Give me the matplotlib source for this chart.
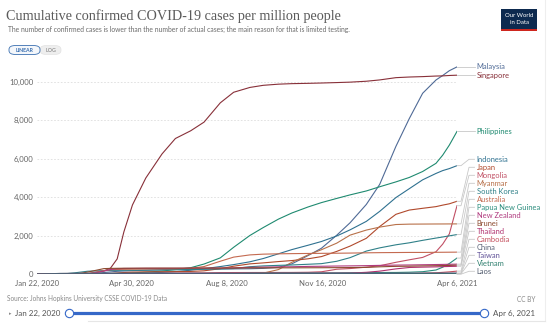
import numpy as np
import pandas as pd
import matplotlib.pyplot as plt
import matplotlib.dates as mdates
from matplotlib.patches import FancyBboxPatch, Rectangle
from matplotlib.lines import Line2D

plt.rcParams['font.family'] = ['Lato', 'DejaVu Sans']

# sample dates (cumulative confirmed cases per million)
dates = pd.to_datetime([
    '2020-01-22', '2020-02-15', '2020-03-01', '2020-03-15', '2020-04-01', '2020-04-08',
    '2020-04-15', '2020-04-22', '2020-05-01', '2020-05-15', '2020-06-01', '2020-06-15',
    '2020-07-01', '2020-07-15', '2020-08-01', '2020-08-15', '2020-09-01', '2020-09-15',
    '2020-10-01', '2020-10-15', '2020-11-01', '2020-11-15', '2020-12-01', '2020-12-15',
    '2021-01-01', '2021-01-15', '2021-02-01', '2021-02-15', '2021-03-01', '2021-03-15',
    '2021-03-22', '2021-03-29', '2021-04-06'])

malaysia = [0, 0.6, 0.9, 13, 91, 123, 155, 170, 188, 211, 242, 262, 267, 270, 277, 281, 289, 307,
            363, 542, 974, 1353, 2029, 2676, 3626, 4667, 6641, 8082, 9397, 10087, 10320, 10570, 10767]
singapore = [0, 12, 18, 39, 171, 320, 800, 2200, 3600, 5000, 6250, 7050, 7450, 7900, 8900, 9450,
             9700, 9810, 9870, 9897, 9913, 9930, 9953, 9975, 10022, 10090, 10208, 10241, 10262,
             10292, 10300, 10321, 10336]
philippines = [0, 0, 0, 1.3, 20, 35, 49, 62, 80, 107, 170, 243, 342, 533, 852, 1402, 2015, 2426,
               2866, 3182, 3496, 3722, 3939, 4123, 4326, 4544, 4797, 5027, 5336, 5761, 6184, 6710, 7417]
indonesia = [0, 0, 0, 0.4, 6.1, 10.9, 19, 27, 39, 60, 98, 143, 211, 290, 402, 503, 649, 818,
             1065, 1282, 1509, 1703, 1989, 2308, 2747, 3266, 3983, 4444, 4904, 5236, 5383, 5488, 5640]
japan = [0, 0.4, 2.0, 6.7, 18.8, 40, 67, 93, 113, 128, 133, 139, 148, 181, 291, 420, 541, 593,
         661, 713, 805, 919, 1189, 1464, 1869, 2480, 3114, 3335, 3426, 3513, 3591, 3660, 3790]
mongolia = [0, 0, 0, 0.3, 3.7, 4.9, 8.9, 10.1, 11.6, 13, 56, 60, 67, 69, 89, 91, 93, 94, 95, 96,
            105, 131, 263, 299, 370, 444, 623, 752, 876, 1172, 1565, 2100, 3560]
myanmar = [0, 0, 0, 0, 0.3, 0.4, 1.4, 2.3, 2.8, 3.3, 4.2, 4.8, 5.6, 6.1, 6.6, 6.8, 19.5, 60,
           246, 623, 1007, 1276, 1617, 2034, 2296, 2450, 2584, 2604, 2608, 2612, 2613, 2615, 2617]
south_korea = [0, 0.5, 73, 159, 193, 202, 207, 209, 210, 216, 225, 236, 252, 267, 280, 299, 394,
               436, 464, 484, 521, 553, 676, 865, 1205, 1372, 1531, 1634, 1763, 1881, 1937, 1996, 2063]
australia = [0, 0.6, 1.1, 12, 191, 239, 251, 260, 265, 275, 282, 288, 311, 402, 678, 892, 1007,
             1046, 1063, 1073, 1082, 1088, 1094, 1102, 1115, 1124, 1130, 1135, 1135, 1141, 1144, 1147, 1150]
png = [0, 0, 0, 0, 0.1, 0.2, 0.9, 0.9, 0.9, 0.9, 0.9, 0.9, 0.9, 1.2, 7, 34, 55, 58, 61, 64, 66,
       69, 73, 80, 87, 93, 95, 108, 135, 223, 369, 560, 843]
new_zealand = [0, 0, 0.2, 1.7, 165, 251, 288, 302, 307, 311, 312, 312, 317, 321, 324, 337, 361,
               375, 384, 392, 410, 417, 429, 437, 449, 463, 477, 484, 496, 507, 513, 520, 527]
brunei = [0, 0, 0, 114, 295, 307, 311, 316, 316, 321, 322, 322, 322, 324, 325, 325, 332, 334, 336,
          336, 339, 341, 345, 350, 359, 389, 412, 421, 435, 446, 453, 460, 473]
thailand = [0.06, 0.5, 0.6, 1.6, 25, 33, 38, 41, 42, 43, 44, 45, 45, 46, 47, 48, 49, 50, 51, 52,
            54, 55, 57, 61, 103, 164, 281, 354, 372, 386, 397, 407, 417]
cambodia = [0, 0, 0.06, 0.4, 6.5, 7.1, 7.3, 7.4, 7.4, 7.4, 7.5, 7.9, 8.4, 10.5, 14, 16, 16.5,
            16.6, 16.9, 17.3, 17.6, 18, 18.4, 21, 22, 23.6, 28, 29.5, 55, 79, 101, 127, 165]
china = [0.4, 47, 55.6, 56.3, 57.2, 57.4, 57.9, 57.9, 58, 58.1, 58.2, 58.4, 58.7, 59.1, 59.6,
         60.1, 60.2, 60.4, 60.6, 60.8, 61.1, 61.5, 61.9, 62.4, 63.0, 63.8, 65.0, 65.3, 65.5, 65.7,
         65.9, 66.1, 66.3]
taiwan = [0, 0.8, 1.7, 2.5, 13.8, 16, 16.6, 17.9, 18.0, 18.3, 18.5, 18.6, 18.8, 19.1, 19.9, 20.5,
          20.8, 21.2, 21.6, 22.3, 23.3, 25.0, 28.3, 30.8, 33.5, 35.5, 38.3, 39.3, 40.1, 41.2, 42.0,
          42.8, 43.6]
vietnam = [0, 0.17, 0.17, 0.6, 2.2, 2.6, 2.7, 2.8, 2.8, 3.3, 3.4, 3.5, 3.6, 3.8, 5.7, 9.0, 10.7,
           10.9, 11.2, 11.3, 12.0, 12.3, 13.2, 14.3, 15.1, 15.6, 19.0, 23.2, 25.2, 26.2, 26.5, 26.8, 27.0]
laos = [0, 0, 0, 0, 1.2, 2.2, 2.6, 2.6, 2.6, 2.6, 2.6, 2.6, 2.6, 2.6, 2.7, 2.7, 3.1, 3.1, 3.1,
        3.1, 3.3, 3.3, 5.0, 5.3, 5.5, 5.7, 6.0, 6.2, 6.5, 6.6, 6.6, 6.7, 6.7]

countries = ['Malaysia', 'Singapore', 'Philippines', 'Indonesia', 'Japan', 'Mongolia', 'Myanmar',
             'South Korea', 'Australia', 'Papua New Guinea', 'New Zealand', 'Brunei', 'Thailand',
             'Cambodia', 'China', 'Taiwan', 'Vietnam', 'Laos']
series = [malaysia, singapore, philippines, indonesia, japan, mongolia, myanmar, south_korea,
          australia, png, new_zealand, brunei, thailand, cambodia, china, taiwan, vietnam, laos]
colors = ['#4f6a96', '#883039', '#1f8a70', '#2f7190', '#b0492c', '#c15065', '#b8714a', '#2f8088',
          '#c46a50', '#2a8c7c', '#b03a7e', '#8c4a2f', '#b0306e', '#c4505e', '#5b6478', '#5e4f96',
          '#2e7f6e', '#4e586b']

tick_dates = pd.to_datetime(['2020-01-22', '2020-04-30', '2020-08-08', '2020-11-16', '2021-04-06'])
tick_labels = ['Jan 22, 2020', 'Apr 30, 2020', 'Aug 8, 2020', 'Nov 16, 2020', 'Apr 6, 2021']
yticks = [0, 2000, 4000, 6000, 8000, 10000]

W, H = 550, 323
fig = plt.figure(figsize=(W / 100, H / 100), dpi=100)
ax_l, ax_b, ax_w, ax_h = 37, 48.7, 420, 211.9
ax = fig.add_axes([ax_l / W, ax_b / H, ax_w / W, ax_h / H])
ymax = 11000


def fx(x):
    return x / W


def fy(y):
    return 1 - y / H


for name, vals, c in zip(countries, series, colors):
    ax.plot(dates, vals, color=c, lw=0.8, solid_joinstyle='round')

x0 = mdates.date2num(dates[0])
x1 = mdates.date2num(dates[-1])
ax.set_xlim(x0, x1)
ax.set_ylim(0, ymax)
ax.set_yticks(yticks)
ax.set_yticklabels([f'{v:,}' for v in yticks])
ax.set_xticks(tick_dates)
ax.set_xticklabels(tick_labels)
ax.tick_params(length=0, labelsize=5.6, labelcolor='#666666')
ax.tick_params(axis='y', pad=2.5)
ax.tick_params(axis='x', pad=4)
for s in ax.spines.values():
    s.set_visible(False)
for v in yticks[1:]:
    ax.axhline(v, color='#dddddd', lw=0.6, ls=(0, (2, 2)), zorder=0)
ax.axhline(0, color='#cccccc', lw=0.6, zorder=0)

# right-hand labels, stacked upward from the bottom with 8px spacing
px_per_day = ax_w / (x1 - x0)
px_per_val = ax_h / ymax
order = sorted(range(len(countries)), key=lambda i: series[i][-1], reverse=True)
pos = {}
prev = None
for i in reversed(order):
    want = series[i][-1] * px_per_val
    p = max(want, 3.0) if prev is None else max(want, prev + 8)
    pos[i] = p
    prev = p

for i in order:
    yd = series[i][-1]
    yl = pos[i] / px_per_val
    xs = [x1, x1 + 4 / px_per_day, x1 + 12 / px_per_day, x1 + 17.5 / px_per_day]
    ax.add_line(Line2D(xs, [yd, yd, yl, yl], color='#c8c8c8', lw=0.6, clip_on=False))
    ax.text(x1 + 19.7 / px_per_day, yl, countries[i], color=colors[i], fontsize=5.4,
            va='center', ha='left', clip_on=False)

# header
fig.text(fx(6), fy(16), 'Cumulative confirmed COVID-19 cases per million people',
         family='Liberation Serif', fontsize=10.2, color='#5b5b5b', va='center')
fig.text(fx(8), fy(29.5), 'The number of confirmed cases is lower than the number of actual cases; '
         'the main reason for that is limited testing.', fontsize=4.85, color='#6a6a6a', va='center')

fig.patches.append(FancyBboxPatch((fx(40), fy(54.5)), fx(61) - fx(40), fy(45.5) - fy(54.5),
                                  boxstyle='round,pad=0,rounding_size=0.012', transform=fig.transFigure,
                                  fc='#eeeeee', ec='#dddddd', lw=0.4))
fig.patches.append(FancyBboxPatch((fx(9), fy(54.5)), fx(40) - fx(9), fy(45.5) - fy(54.5),
                                  boxstyle='round,pad=0,rounding_size=0.012', transform=fig.transFigure,
                                  fc='#f4f7fb', ec='#3a6fb0', lw=0.6))
fig.text(fx(24.5), fy(50), 'LINEAR', fontsize=3.8, color='#3a6fb0', ha='center', va='center',
         weight='bold')
fig.text(fx(50.5), fy(50), 'LOG', fontsize=3.8, color='#777777', ha='center', va='center')

# logo
fig.patches.append(Rectangle((fx(501), fy(31)), fx(537) - fx(501), fy(9) - fy(31),
                             transform=fig.transFigure, fc='#0d2a4f', ec='none'))
fig.patches.append(Rectangle((fx(501), fy(31)), fx(537) - fx(501), fy(29) - fy(31),
                             transform=fig.transFigure, fc='#ce261e', ec='none'))
fig.text(fx(519), fy(15.5), 'Our World', fontsize=4.3, color='white', ha='center', va='center')
fig.text(fx(519), fy(22.5), 'in Data', fontsize=4.3, color='white', ha='center', va='center')

# footer
fig.text(fx(7), fy(299), 'Source: Johns Hopkins University CSSE COVID-19 Data', fontsize=4.7,
         color='#888888', va='center')
fig.text(fx(535), fy(299), 'CC BY', fontsize=4.7, color='#888888', va='center', ha='right')

# time slider
fig.lines.append(Line2D([fx(69), fx(484)], [fy(312.5), fy(312.5)], transform=fig.transFigure,
                        color='#3568c8', lw=2.3, solid_capstyle='butt'))
for xp in (69, 484):
    fig.lines.append(Line2D([fx(xp)], [fy(312.5)], transform=fig.transFigure, marker='o', ms=6,
                            mfc='white', mec='#3568c8', mew=0.8))
fig.text(fx(10.5), fy(313.5), '▸', fontsize=3.5, color='#888888', ha='center', va='center',
         family='DejaVu Sans')
fig.text(fx(15), fy(313), 'Jan 22, 2020', fontsize=5.8, color='#555555', va='center')
fig.text(fx(493), fy(313), 'Apr 6, 2021', fontsize=5.8, color='#555555', va='center')

# panel frame
fig.lines.append(Line2D([fx(545), fx(545)], [fy(0), fy(321)], transform=fig.transFigure,
                        color='#eeeeee', lw=0.8))
fig.lines.append(Line2D([fx(88), fx(545)], [fy(321), fy(321)], transform=fig.transFigure,
                        color='#e6e6e6', lw=0.8))

fig.savefig('out.png', dpi=100, facecolor='white')
